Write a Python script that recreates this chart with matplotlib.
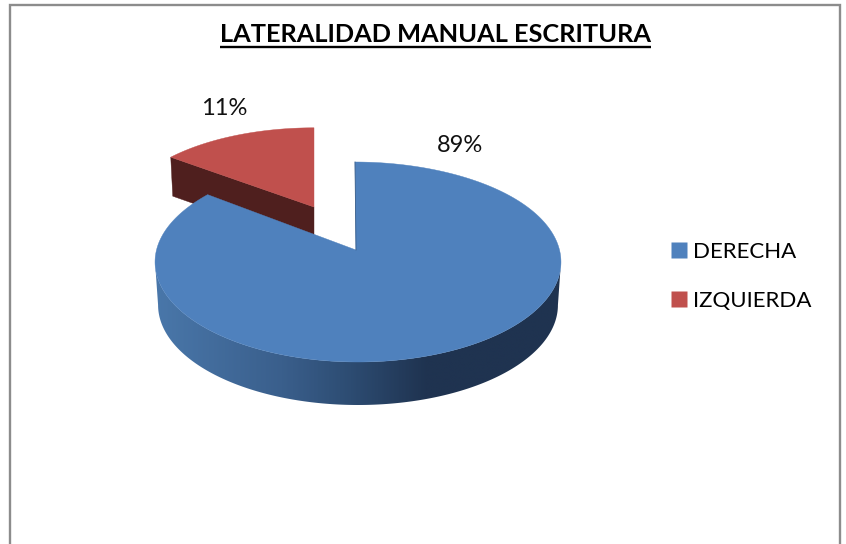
import numpy as np
import matplotlib
matplotlib.use("Agg")
import matplotlib.pyplot as plt
from matplotlib.patches import Polygon, Rectangle
from matplotlib.lines import Line2D
from matplotlib.colors import LinearSegmentedColormap

title = "LATERALIDAD MANUAL ESCRITURA"
categories = ["DERECHA", "IZQUIERDA"]
values = [89, 11]
colors = ["#4F81BD", "#C0504D"]
labels = ["89%", "11%"]

plt.rcParams["font.family"] = ["Lato", "DejaVu Sans"]
W, H = 846, 544
fig = plt.figure(figsize=(W / 100, H / 100), dpi=100)
ax = fig.add_axes([0, 0, 1, 1])

# chart frame (runs off the bottom of the picture)
ax.add_patch(Rectangle((10, 4.5), 830, 600, fc="white", ec="#8C8C8C", lw=1.7, clip_on=True))

# view of the pie: perspective circle
CX, CY, K, A, B = 358, 250, 0.12, 98.56, 201.5
WARP = np.radians(13.6)
DEPTH = 43


def project(theta, cx=CX, cy=CY, sx=1.0, sy=1.0):
    """theta clockwise from 12 o'clock -> picture position."""
    phi = theta + WARP * np.sin(2 * theta)
    u, v = np.sin(phi), np.cos(phi)
    w = 1 + K * v
    return cx + sx * B * u / w, cy - sy * A * v / w


split = 2 * np.pi * values[0] / sum(values)

# exploded slice
red_cx, red_cy, red_sx, red_sy = CX - 44, CY - 43, 0.955, 0.90
t_red = np.linspace(split, 2 * np.pi, 80)
xr, yr = project(t_red, red_cx, red_cy, red_sx, red_sy)
ax.add_patch(Polygon([(xr[0], yr[0]), (red_cx, red_cy), (red_cx, red_cy + 39), (xr[0] + 2, yr[0] + 39)],
                     fc="#4F1F1E", ec="#4F1F1E", lw=0.3))
ax.add_patch(Polygon(np.vstack([[red_cx, red_cy], np.column_stack([xr, yr])]),
                     fc=colors[1], ec=colors[1], lw=0.3))

# blue rim with horizontal shading, between the two widest points of the ellipse
shade = LinearSegmentedColormap.from_list(
    "rim", [(0, "#4A78AB"), (0.36, "#3A5F8C"), (0.55, "#2D4C72"), (0.76, "#1F3350"), (1, "#1F3350")])
t_all = np.linspace(0, 2 * np.pi, 1441)
x_all, _ = project(t_all)
t_edge = np.linspace(t_all[np.argmax(x_all)], t_all[np.argmin(x_all)], 300)
xt, yt = project(t_edge)
xb = CX + (xt - CX) * 0.985
yb = yt + DEPTH
rim = Polygon(np.vstack([np.column_stack([xt, yt]), np.column_stack([xb, yb])[::-1]]),
              fc="none", ec="none")
ax.add_patch(rim)
grad = np.linspace(0, 1, 400).reshape(1, -1)
ax.imshow(shade(np.clip(grad * (565 - 150) / (520 - 155), 0, 1)), extent=(150, 565, 420, 240),
          aspect="auto", clip_path=rim, zorder=1.5, interpolation="bilinear")

# blue top
t_blue = np.linspace(0, split, 400)
xbl, ybl = project(t_blue)
top_x = xbl - 3 * np.clip(np.cos(t_blue), 0, 1) ** 8
blue = Polygon(np.vstack([[CX - 2, CY], np.column_stack([top_x, ybl])]),
               fc=colors[0], ec=colors[0], lw=0.3, zorder=2)
ax.add_patch(blue)
ax.plot([top_x[0], CX - 2], [ybl[0], CY], color="#3B5F8A", lw=0.6, zorder=2.1)

# data labels
ax.text(460, 145.5, labels[0], ha="center", va="center", fontsize=17, color="#111111")
ax.text(224, 108.5, labels[1], ha="center", va="center", fontsize=17, color="#111111")

# title with underline
tt = ax.text(435.5, 34, title, ha="center", va="center", fontsize=18.3, fontweight="bold", color="black")
ax.set_xlim(0, W)
ax.set_ylim(H, 0)
ax.axis("off")
fig.canvas.draw()
bb = tt.get_window_extent()
ax.plot([bb.x0, bb.x1], [46.5, 46.5], color="black", lw=1.7, solid_capstyle="butt")

# legend
handles = [Line2D([], [], ls="none", marker="s", ms=11.2, mfc=c, mec="none") for c in colors]
ax.legend(handles, categories, loc="center left", bbox_to_anchor=(662 / W, 1 - 276.5 / H),
          bbox_transform=fig.transFigure, frameon=False, fontsize=16, labelspacing=1.3,
          handlelength=0.9, handletextpad=0.2, borderpad=0.3, borderaxespad=0, numpoints=1)

ax.set_xlim(0, W)
ax.set_ylim(H, 0)
fig.savefig("out.png", dpi=100)
